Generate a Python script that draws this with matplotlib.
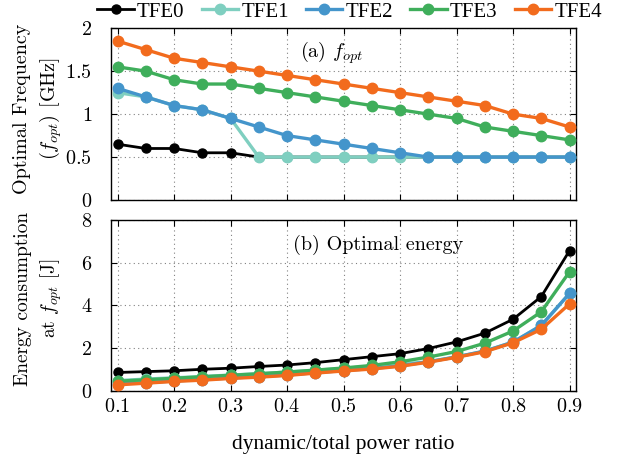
''' Optimal frequency and optimal energy vs dynamic/total power ratio '''

import matplotlib
matplotlib.use("Agg")
import matplotlib.pyplot as plt

ratio = [0.1, 0.15, 0.2, 0.25, 0.3, 0.35, 0.4, 0.45, 0.5,
         0.55, 0.6, 0.65, 0.7, 0.75, 0.8, 0.85, 0.9]
names = ["TFE0", "TFE1", "TFE2", "TFE3", "TFE4"]
colors = ["#000000", "#7fcfc0", "#4495cb", "#3fae5b", "#f26b1d"]

# optimal frequency [GHz]
f_tfe0 = [0.65, 0.6, 0.6, 0.55, 0.55, 0.5, 0.5, 0.5, 0.5,
          0.5, 0.5, 0.5, 0.5, 0.5, 0.5, 0.5, 0.5]
f_tfe1 = [1.25, 1.2, 1.1, 1.05, 0.95, 0.5, 0.5, 0.5, 0.5,
          0.5, 0.5, 0.5, 0.5, 0.5, 0.5, 0.5, 0.5]
f_tfe2 = [1.3, 1.2, 1.1, 1.05, 0.95, 0.85, 0.75, 0.7, 0.65,
          0.6, 0.55, 0.5, 0.5, 0.5, 0.5, 0.5, 0.5]
f_tfe3 = [1.55, 1.5, 1.4, 1.35, 1.35, 1.3, 1.25, 1.2, 1.15,
          1.1, 1.05, 1.0, 0.95, 0.85, 0.8, 0.75, 0.7]
f_tfe4 = [1.85, 1.75, 1.65, 1.6, 1.55, 1.5, 1.45, 1.4, 1.35,
          1.3, 1.25, 1.2, 1.15, 1.1, 1.0, 0.95, 0.85]

# energy at f_opt [J]
e_tfe0 = [0.86, 0.90, 0.94, 1.01, 1.06, 1.14, 1.21, 1.32, 1.46,
          1.60, 1.74, 1.98, 2.29, 2.70, 3.35, 4.41, 6.56]
e_tfe1 = [0.48, 0.55, 0.61, 0.67, 0.74, 0.80, 0.88, 0.96, 1.05,
          1.15, 1.25, 1.36, 1.59, 1.86, 2.28, 3.06, 4.56]
e_tfe2 = [0.32, 0.39, 0.46, 0.53, 0.60, 0.67, 0.74, 0.85, 0.95,
          1.04, 1.17, 1.36, 1.59, 1.86, 2.28, 3.06, 4.56]
e_tfe3 = [0.45, 0.52, 0.59, 0.66, 0.73, 0.80, 0.88, 0.97, 1.07,
          1.19, 1.36, 1.58, 1.84, 2.23, 2.80, 3.70, 5.57]
e_tfe4 = [0.28, 0.36, 0.44, 0.50, 0.58, 0.64, 0.72, 0.83, 0.93,
          1.02, 1.15, 1.34, 1.57, 1.83, 2.25, 2.88, 4.07]

x_ticks = [0.1, 0.2, 0.3, 0.4, 0.5, 0.6, 0.7, 0.8, 0.9]
x_labels = ["0.1", "0.2", "0.3", "0.4", "0.5", "0.6", "0.7", "0.8", "0.9"]
f_ticks = [0, 0.5, 1, 1.5, 2]
f_labels = ["0", "0.5", "1", "1.5", "2"]
e_ticks = [0, 2, 4, 6, 8]
e_labels = ["0", "2", "4", "6", "8"]

freqs = [f_tfe0, f_tfe1, f_tfe2, f_tfe3, f_tfe4]
energies = [e_tfe0, e_tfe1, e_tfe2, e_tfe3, e_tfe4]

plt.rcParams["font.family"] = ["Liberation Serif", "DejaVu Serif"]
plt.rcParams["mathtext.fontset"] = "cm"
plt.rcParams["font.size"] = 14.5

FS = 14.5


def math(labels):
    return ["$" + s + "$" for s in labels]


def style_axis(ax):
    ax.set_xlim(0.088, 0.912)
    ax.set_xticks(x_ticks)
    ax.tick_params(direction="in", top=True, right=True, length=4,
                   width=0.8, labelsize=FS)
    ax.tick_params(axis="y", pad=13.5)
    ax.tick_params(axis="x", pad=5)
    ax.grid(True, linestyle=(0, (1, 3)), color="#808080", linewidth=0.8)
    for s in ax.spines.values():
        s.set_linewidth(1.0)


fig = plt.figure(figsize=(6.19, 4.62), dpi=100)
ax1 = fig.add_axes([0.179, 0.567, 0.752, 0.372])
ax2 = fig.add_axes([0.179, 0.154, 0.752, 0.370])

for i in range(5):
    ms = 6.5 if i == 0 else 7.5
    lw = 2.0 if i == 0 else 2.4
    ax1.plot(ratio, freqs[i], color=colors[i], marker="o", markersize=ms,
             linewidth=lw, label=names[i], clip_on=False, zorder=3 + i)
    ax2.plot(ratio, energies[i], color=colors[i], marker="o", markersize=ms,
             linewidth=lw, clip_on=False, zorder=3 + i)

style_axis(ax1)
ax1.set_ylim(0, 2)
ax1.set_yticks(f_ticks)
ax1.set_yticklabels(math(f_labels))
ax1.set_xticklabels([])
ax1.set_ylabel("Optimal Frequency\n$(f_{opt})$ [GHz]", fontsize=FS,
               family="cmr10", linespacing=1.35)
ax1.yaxis.set_label_coords(-0.1, 0.53)
ax1.text(0.475, 0.855, "(a) $f_{opt}$", transform=ax1.transAxes,
         ha="center", va="center", fontsize=FS, family="cmr10")

style_axis(ax2)
ax2.set_ylim(0, 8)
ax2.set_yticks(e_ticks)
ax2.set_yticklabels(math(e_labels))
ax2.set_xticklabels(math(x_labels))
ax2.set_ylabel("Energy consumption\nat $f_{opt}$ [J]", fontsize=FS - 0.5,
               family="cmr10", linespacing=1.4)
ax2.yaxis.set_label_coords(-0.1, 0.54)
ax2.set_xlabel("dynamic/total power ratio", fontsize=15.5, labelpad=13)
ax2.text(0.575, 0.855, "(b) Optimal energy", transform=ax2.transAxes,
         ha="center", va="center", fontsize=FS, family="cmr10")

h, l = ax1.get_legend_handles_labels()
fig.legend(h, l, loc="upper left", bbox_to_anchor=(0.127, 1.036), ncol=5,
           frameon=False, handlelength=1.75, handletextpad=0.15,
           columnspacing=0.825, numpoints=1, fontsize=FS + 0.5)

fig.savefig("out.png", dpi=100)
